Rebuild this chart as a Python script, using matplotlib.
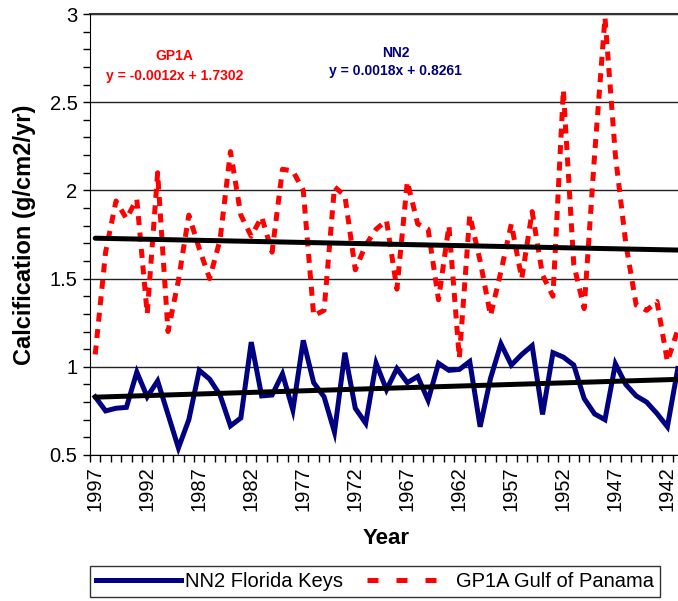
import numpy as np
import matplotlib
matplotlib.use("Agg")
import matplotlib.pyplot as plt
from matplotlib.lines import Line2D
from matplotlib.ticker import FixedLocator, MultipleLocator, FormatStrFormatter

plt.rcParams['font.family'] = ['Liberation Sans', 'DejaVu Sans']

# yearly calcification, 1997 back to 1941
years = list(range(1997, 1940, -1))
nn2 = [0.83, 0.75, 0.765, 0.77, 0.97, 0.83, 0.92, 0.73, 0.54, 0.70,
       0.98, 0.93, 0.84, 0.665, 0.71, 1.14, 0.835, 0.84, 0.96, 0.755,
       1.15, 0.91, 0.83, 0.63, 1.08, 0.765, 0.68, 1.02, 0.87, 0.99,
       0.91, 0.945, 0.81, 1.02, 0.98, 0.985, 1.03, 0.66, 0.935, 1.13,
       1.01, 1.07, 1.12, 0.73, 1.08, 1.055, 1.01, 0.82, 0.733, 0.70,
       1.017, 0.90, 0.835, 0.80, 0.735, 0.66, 0.99]
gp1a = [1.07, 1.65, 1.94, 1.84, 1.95, 1.30, 2.10, 1.20, 1.49, 1.86,
        1.67, 1.50, 1.72, 2.22, 1.86, 1.74, 1.85, 1.65, 2.12, 2.11,
        2.00, 1.29, 1.32, 2.02, 1.97, 1.55, 1.69, 1.78, 1.83, 1.44,
        2.05, 1.81, 1.78, 1.38, 1.80, 1.05, 1.86, 1.60, 1.29, 1.54,
        1.81, 1.50, 1.88, 1.52, 1.40, 2.57, 1.58, 1.33, 2.20, 2.98,
        2.20, 1.70, 1.35, 1.32, 1.37, 1.03, 1.21]

# linear trendlines (x = 1..n)
nn2_fit = (0.0018, 0.8261)
gp1a_fit = (-0.0012, 1.7302)

navy = '#000080'
red = '#FF0000'

fig = plt.figure(figsize=(6.78, 6.01), dpi=100)
ax = fig.add_axes([90 / 678, 146 / 601, 593 / 678, 441 / 601])

x = np.arange(len(years))
ax.plot(x, nn2, color=navy, lw=3.6, solid_joinstyle='miter', zorder=3)
ax.plot(x, gp1a, color=red, lw=3.6, linestyle=(0, (1.8, 1.5)),
        dash_capstyle='butt', zorder=3)

n = np.arange(1, len(years) + 1)
for slope, icpt in (nn2_fit, gp1a_fit):
    ax.plot(x, slope * n + icpt, color='black', lw=3.6, zorder=4,
            solid_capstyle='round')

ax.set_xlim(-0.5, len(years) - 0.5)
ax.set_ylim(0.5, 3.0)

# y axis
ax.yaxis.set_major_locator(MultipleLocator(0.5))
ax.yaxis.set_minor_locator(MultipleLocator(0.1))
ax.yaxis.set_major_formatter(FormatStrFormatter('%g'))
ax.tick_params(axis='y', which='both', direction='out', length=5, width=1,
               labelsize=14.5, pad=4)
ax.grid(axis='y', which='major', color='#222222', lw=1)

# x axis: labels every 5 years, tick marks between categories
ax.xaxis.set_major_locator(FixedLocator(x[::5]))
ax.set_xticklabels([str(y) for y in years[::5]], rotation=90)
ax.xaxis.set_minor_locator(FixedLocator(np.arange(-0.5, len(years), 1)))
ax.tick_params(axis='x', which='major', length=0, labelsize=14.5, pad=8)
ax.tick_params(axis='x', which='minor', direction='out', length=5, width=1)

for side in ('top', 'right'):
    ax.spines[side].set_visible(False)
ax.axhline(3.0, color='#333333', lw=1.5, clip_on=False)

ax.set_ylabel('Calcification (g/cm2/yr)', fontsize=17, fontweight='bold',
              labelpad=10)
ax.set_xlabel('Year', fontsize=16, fontweight='bold', labelpad=12)

ax.text(7.6, 2.76, 'GP1A', color=red, fontsize=10, fontweight='bold',
        ha='center', va='center')
ax.text(7.6, 2.648, 'y = -0.0012x + 1.7302', color=red, fontsize=10,
        fontweight='bold', ha='center', va='center')
ax.text(28.9, 2.778, 'NN2', color=navy, fontsize=10, fontweight='bold',
        ha='center', va='center')
ax.text(28.9, 2.676, 'y = 0.0018x + 0.8261', color=navy, fontsize=10,
        fontweight='bold', ha='center', va='center')

handles = [
    Line2D([], [], color=navy, lw=3.6),
    Line2D([], [], color=red, lw=3.6, linestyle=(0, (2.2, 3.6)),
           dash_capstyle='butt'),
]
leg = fig.legend(handles, ['NN2 Florida Keys', 'GP1A Gulf of Panama'],
                 loc='upper left', ncol=2, mode='expand',
                 bbox_to_anchor=(90 / 678, 0, 570 / 678, 35 / 601),
                 bbox_transform=fig.transFigure, borderaxespad=0,
                 fontsize=14.5, frameon=True, fancybox=False,
                 handlelength=4.2, handletextpad=0.2, columnspacing=0.5,
                 borderpad=0.3)
leg.get_frame().set_edgecolor('black')
leg.get_frame().set_linewidth(1)

fig.savefig('out.png', dpi=100)
